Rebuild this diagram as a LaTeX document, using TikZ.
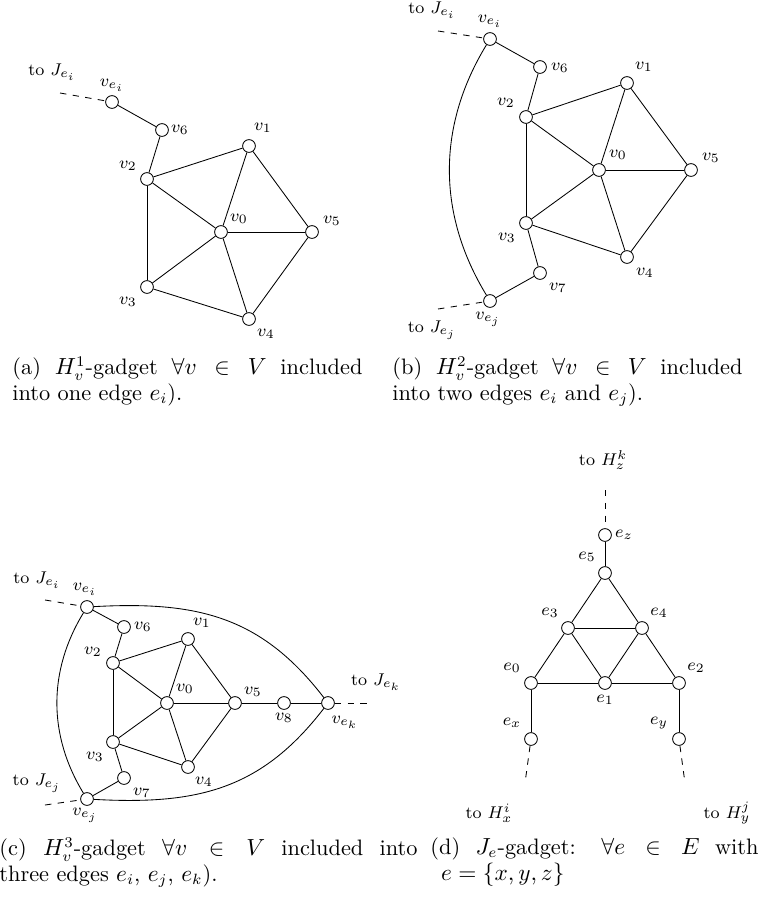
\documentclass[tikz,border=0pt]{standalone}

\tikzset{
  vtx/.style={circle, draw, fill=white, inner sep=0pt, minimum size=6pt},
  lbl/.style={font=\footnotesize, inner sep=0pt},
  ext/.style={dashed},
  capt/.style={anchor=north west, inner sep=0pt, align=justify,
               font=\fontsize{10.5}{12.2}\selectfont}
}

\begin{document}
\begin{tikzpicture}[x=0.47pt, y=-0.47pt]
    \useasboundingbox (0,0) rectangle (760,901);

    % (a) H^1_v-gadget
    \foreach \nm/\p in {ve/{112,102}, v6/{162,130}, v1/{249,146}, v2/{147,179},
                        v0/{221,232}, v5/{312,232}, v3/{147,287}, v4/{249,319}}
        \node[vtx] (a\nm) at (\p) {};
    \foreach \nm/\p/\t in {ve/{112,85}/v_{e_i}, v6/{180,130}/v_6, v1/{263,128}/v_1,
                           v2/{128,166}/v_2, v0/{239,219}/v_0, v5/{332,221}/v_5,
                           v3/{128,302}/v_3, v4/{266,334}/v_4}
        \node[lbl] (a\nm-l) at (\p) {$\t$};
    \foreach \s/\t in {ve/v6, v6/v2, v2/v1, v2/v0, v2/v3, v1/v0, v1/v5,
                       v0/v5, v0/v3, v0/v4, v3/v4, v5/v4}
        \draw (a\s) -- (a\t);
    \coordinate (a-ei) at (60,93);
    \draw[ext] (a-ei) -- (ave);
    \node[lbl] (a-to) at (52,72) {to $J_{e_i}$};
    \node[capt, text width=164.5pt] (a-cap) at (12,356)
        {(a) $H^1_v$-gadget $\forall v \in V$ included\linebreak into one edge $e_i$).};

    % (b) H^2_v-gadget
    \foreach \nm/\p in {ve/{490,39}, v6/{540,67}, v1/{627,83}, v2/{526,117},
                        v0/{599,170}, v5/{691,170}, v3/{526,223}, v4/{627,257},
                        v7/{540,273}, vej/{490,301}}
        \node[vtx] (b\nm) at (\p) {};
    \foreach \nm/\p/\t in {ve/{490,21}/v_{e_i}, v6/{560,68}/v_6, v1/{644,67}/v_1,
                           v2/{506,103}/v_2, v0/{618,155}/v_0, v5/{711,158}/v_5,
                           v3/{507,238}/v_3, v4/{645,273}/v_4, v7/{558,288}/v_7,
                           vej/{488,319}/v_{e_j}}
        \node[lbl] (b\nm-l) at (\p) {$\t$};
    \foreach \s/\t in {ve/v6, v6/v2, v2/v1, v2/v0, v2/v3, v1/v0, v1/v5,
                       v0/v5, v0/v3, v0/v4, v3/v4, v5/v4, v3/v7, v7/vej}
        \draw (b\s) -- (b\t);
    \draw (bve) .. controls (437,126) and (437,214) .. (bvej);
    \coordinate (b-ei) at (438,31);
    \coordinate (b-ej) at (438,309);
    \draw[ext] (b-ei) -- (bve);
    \draw[ext] (b-ej) -- (bvej);
    \node[lbl] (b-toi) at (432,10) {to $J_{e_i}$};
    \node[lbl] (b-toj) at (432,330) {to $J_{e_j}$};
    \node[capt, text width=164.5pt] (b-cap) at (392,356)
        {(b) $H^2_v$-gadget $\forall v \in V$ included\linebreak into two edges $e_i$ and $e_j$).};

    % (c) H^3_v-gadget
    \foreach \nm/\p in {ve/{87,607}, v6/{124,627}, v1/{188,639}, v2/{113,663},
                        v0/{167,703}, v5/{235,703}, v8/{284,703}, vek/{328,703},
                        v3/{113,742}, v4/{188,767}, v7/{124,778}, vej/{87,799}}
        \node[vtx] (c\nm) at (\p) {};
    \foreach \nm/\p/\t in {ve/{85,589}/v_{e_i}, v6/{143,627}/v_6, v1/{202,623}/v_1,
                           v2/{93,652}/v_2, v0/{185,689}/v_0, v5/{253,692}/v_5,
                           v8/{284,718}/v_8, vek/{345,722}/v_{e_k}, v3/{95,757}/v_3,
                           v4/{204,782}/v_4, v7/{142,793}/v_7, vej/{85,815}/v_{e_j}}
        \node[lbl] (c\nm-l) at (\p) {$\t$};
    \foreach \s/\t in {ve/v6, v6/v2, v2/v1, v2/v0, v2/v3, v1/v0, v1/v5,
                       v0/v5, v0/v3, v0/v4, v3/v4, v5/v4, v3/v7, v7/vej,
                       v5/v8, v8/vek}
        \draw (c\s) -- (c\t);
    \draw (cve) .. controls (48,671) and (48,735) .. (cvej);
    \draw (cve) .. controls (197,601) and (261,616) .. (cvek);
    \draw (cvej) .. controls (197,805) and (261,790) .. (cvek);
    \coordinate (c-ei) at (45,600);
    \coordinate (c-ej) at (45,805);
    \coordinate (c-ek) at (373,703);
    \draw[ext] (c-ei) -- (cve);
    \draw[ext] (c-ej) -- (cvej);
    \draw[ext] (cvek) -- (c-ek);
    \node[lbl] (c-toi) at (37,580) {to $J_{e_i}$};
    \node[lbl] (c-toj) at (37,783) {to $J_{e_j}$};
    \node[lbl] (c-tok) at (376,682) {to $J_{e_k}$};
    \node[capt, text width=196.5pt] (c-cap) at (-1,837)
        {(c) $H^3_v$-gadget $\forall v \in V$ included into\linebreak three edges $e_i$, $e_j$, $e_k$).};

    % (d) J_e-gadget
    \foreach \nm/\p in {ez/{605,535}, e5/{605,573}, e3/{568,628}, e4/{642,628},
                        e0/{531,683}, e1/{605,683}, e2/{679,683},
                        ex/{531,739}, ey/{679,739}}
        \node[vtx] (d\nm) at (\p) {};
    \foreach \nm/\p/\t in {ez/{624,535}/e_z, e5/{587,557}/e_5, e3/{550,613}/e_3,
                           e4/{659,613}/e_4, e0/{512,668}/e_0, e1/{605,700}/e_1,
                           e2/{696,668}/e_2, ex/{512,723}/e_x, ey/{659,723}/e_y}
        \node[lbl] (d\nm-l) at (\p) {$\t$};
    \foreach \s/\t in {ez/e5, e5/e3, e5/e4, e3/e4, e3/e0, e3/e1, e4/e1,
                       e4/e2, e0/e1, e1/e2, e0/ex, e2/ey}
        \draw (d\s) -- (d\t);
    \coordinate (d-z) at (605,490);
    \coordinate (d-x) at (525,783);
    \coordinate (d-y) at (685,783);
    \draw[ext] (d-z) -- (dez);
    \draw[ext] (dex) -- (d-x);
    \draw[ext] (dey) -- (d-y);
    \node[lbl] (d-toz) at (603,460) {to $H^k_z$};
    \node[lbl] (d-tox) at (489,813) {to $H^i_x$};
    \node[lbl] (d-toy) at (727,813) {to $H^j_y$};
    \node[capt, text width=154.2pt] (d-cap) at (430,837)
        {(d) $J_e$-gadget: $\forall e \in E$ with\linebreak\hspace*{5pt}$e = \{x, y, z\}$};
\end{tikzpicture}
\end{document}
